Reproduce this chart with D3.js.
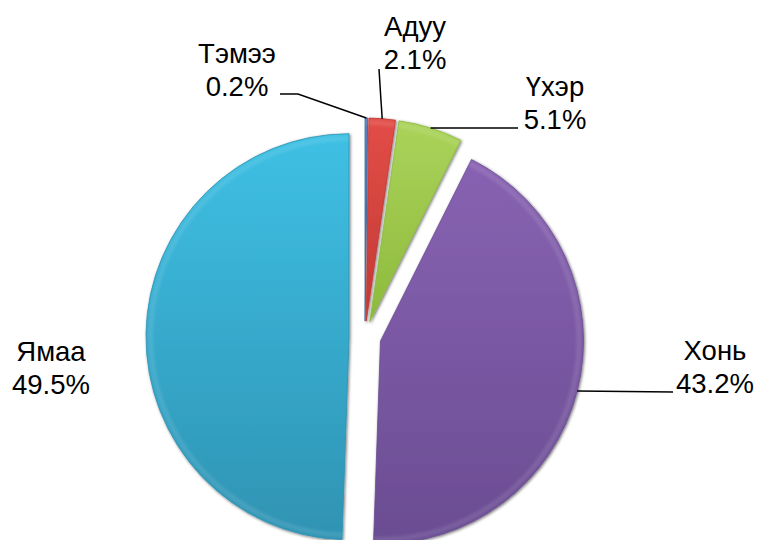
<!DOCTYPE html>
<html>
<head>
<meta charset="utf-8">
<script src="https://cdn.jsdelivr.net/npm/d3@7"></script>
<style>
  html, body { margin: 0; padding: 0; background: #fff; }
  svg { display: block; }
  text { font-family: "Liberation Sans", Arial, sans-serif; fill: #000; }
</style>
</head>
<body>
<div id="chart"></div>
<script>
// ---- data ----
const categories = ["Тэмээ", "Адуу", "Үхэр", "Хонь", "Ямаа"];
const values = [0.2, 2.1, 5.1, 43.2, 49.5];
const valueLabels = ["0.2%", "2.1%", "5.1%", "43.2%", "49.5%"];

// ---- styles / layout ----
const colorsTop = ["#5a86c4", "#e24d47", "#aad35a", "#8862b2", "#3ec0e4"];
const colorsBottom = ["#3f6aa5", "#c23a35", "#8dba3c", "#6a4d92", "#2f93b3"];
const W = 761, H = 540;
const cx = 365, cy = 337, R = 203, explode = 16;
const fontSize = 27.5, lineH = 33;
// label block centres (x) and first baseline (y)
const labelPos = [[237, 63], [415, 36], [555, 96], [715, 360], [51, 361]];
// leader line label-side points (null = no leader)
const leaderEnds = [
  [[298, 94], [280, 94]],
  [[379, 69]],
  [[505, 128], [518, 128]],
  [[673, 392]],
  null
];

const svg = d3.select("#chart").append("svg").attr("width", W).attr("height", H);
const defs = svg.append("defs");
const f = defs.append("filter").attr("id", "sh").attr("x", "-10%").attr("y", "-10%").attr("width", "120%").attr("height", "120%");
f.append("feDropShadow").attr("dx", 1).attr("dy", 1).attr("stdDeviation", 1.6)
  .attr("flood-color", "#000").attr("flood-opacity", 0.55);
const fb = defs.append("filter").attr("id", "blur");
fb.append("feGaussianBlur").attr("stdDeviation", 1.5);

categories.forEach((c, i) => {
  const g = defs.append("linearGradient").attr("id", "g" + i)
    .attr("x1", 0).attr("y1", 0).attr("x2", 0).attr("y2", 1);
  g.append("stop").attr("offset", "0%").attr("stop-color", colorsTop[i]);
  g.append("stop").attr("offset", "100%").attr("stop-color", colorsBottom[i]);
});

const pie = d3.pie().sort(null).value(d => d)(values);
const arc = d3.arc().innerRadius(0).outerRadius(R);

const offs = pie.map(d => {
  const a = (d.startAngle + d.endAngle) / 2;
  return [Math.sin(a) * explode, -Math.cos(a) * explode, a];
});

const root = svg.append("g").attr("transform", `translate(${cx},${cy})`);

root.selectAll("path.slice").data(pie).enter().append("path")
  .attr("class", "slice")
  .attr("transform", (d, i) => `translate(${offs[i][0]},${offs[i][1]})`)
  .attr("d", arc)
  .attr("fill", (d, i) => `url(#g${i})`)
  .attr("stroke", (d, i) => colorsBottom[i])
  .attr("stroke-width", 0.8)
  .attr("filter", "url(#sh)");

// soft bevel highlight along the rim
root.selectAll("path.bevel").data(pie).enter().append("path")
  .attr("class", "bevel")
  .attr("transform", (d, i) => `translate(${offs[i][0]},${offs[i][1]})`)
  .attr("d", d3.arc().innerRadius(R - 7).outerRadius(R - 2))
  .attr("fill", "#ffffff")
  .attr("opacity", 0.1)
  .attr("filter", "url(#blur)");

// leader lines
pie.forEach((d, i) => {
  if (!leaderEnds[i]) return;
  const a = offs[i][2];
  const sx = cx + offs[i][0] + Math.sin(a) * R;
  const sy = cy + offs[i][1] - Math.cos(a) * R;
  const pts = [[sx, sy]].concat(leaderEnds[i]);
  svg.append("path")
    .attr("d", d3.line()(pts))
    .attr("fill", "none")
    .attr("stroke", "#000")
    .attr("stroke-width", 1.5);
});

// labels
categories.forEach((c, i) => {
  const t = svg.append("text")
    .attr("text-anchor", "middle")
    .attr("font-size", fontSize);
  t.append("tspan").attr("x", labelPos[i][0]).attr("y", labelPos[i][1]).text(c);
  t.append("tspan").attr("x", labelPos[i][0]).attr("y", labelPos[i][1] + lineH).text(valueLabels[i]);
});
</script>
</body>
</html>
